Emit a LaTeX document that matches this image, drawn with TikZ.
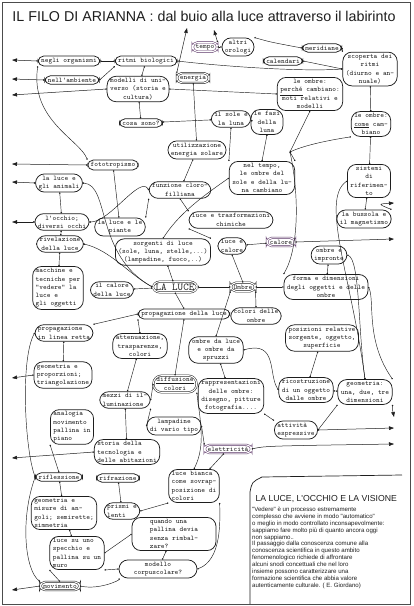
\documentclass[tikz,border=0pt]{standalone}
\usepackage{fontspec}
\usepackage{graphicx}
\setmainfont{Liberation Serif}
\newfontfamily\csfont{Liberation Sans}
\usetikzlibrary{arrows.meta}
\definecolor{ink}{HTML}{1E1E1E}
\definecolor{purp}{HTML}{5B3566}
\begin{document}
\begin{tikzpicture}[x=1pt,y=-1pt,
 blob/.style={draw=ink, line width=0.75pt, rounded corners=5.5pt, align=center, inner xsep=3pt, inner ysep=2pt, font=\ttfamily\fontsize{7}{8.3}\selectfont, text=ink, fill=white},
 tall/.style={rounded corners=9pt},
 dbl/.style={blob, rounded corners=5pt, double=white, double distance=1.1pt, line width=0.5pt},
 cn/.style={draw=ink, line width=0.45pt, {Circle[length=1.4pt]}-{Circle[length=1.4pt]}},
 outa/.style={draw=ink, line width=0.5pt, {Circle[length=1.4pt]}-{Triangle[length=5pt,width=3.6pt]}},
]
\useasboundingbox (0,0) rectangle (414,606);
\fill[white] (0,0) rectangle (414,606);
\draw[line width=0.8pt, black!70] (2,2) rectangle (410,604);

\node[text=ink] (title) at (204,16) {\resizebox{383pt}{!}{\csfont\fontsize{13}{15}\selectfont IL FILO DI ARIANNA : dal buio alla luce attraverso il labirinto}};

% ---------- nodes ----------
\node[blob] (org) at (69,61) {negli organismi};
\node[blob] (amb) at (72,80) {nell'ambiente};
\node[blob] (rit) at (146,61) {ritmi biologici};
\node[blob,tall] (mod) at (138,89) {modelli di uni-\\verso (storia e\\cultura)};
\node[blob] (cosa) at (141,123) {cosa sono?};
\node[dbl,draw=purp] (tempo) at (205,47) {tempo};
\node[blob,tall] (oro) at (238,47) {altri\\orologi};
\node[blob] (cal) at (283,61) {calendari};
\node[blob] (mer) at (322,48) {meridiane};
\node[blob,tall] (sco) at (370,69) {scoperta dei\\ritmi\\(diurno e an-\\nuale)};
\node[dbl] (ene) at (193,78) {energia};
\node[blob,tall] (perche) at (310,94) {le ombre:\\\underline{perché} cambiano:\\moti relativi e\\modelli};
\node[blob,tall] (sole) at (231,119) {il sole e\\la luna};
\node[blob,tall] (fasi) at (267,122) {le fasi\\della\\luna};
\node[blob,tall] (come) at (371,124) {le ombre:\\\underline{come} cam-\\biano};
\node[blob,tall] (util) at (197,150) {utilizzazione\\energia solare};
\node[blob] (foto) at (113,165) {fototropismo};
\node[blob,tall] (anim) at (59,183) {la luce e\\gli animali};
\node[blob,tall] (occ) at (62,222) {l'occhio;\\diversi occhi};
\node[blob,tall] (piante) at (120,227) {la luce e le\\piante};
\node[blob,tall] (clor) at (180,190) {funzione cloro-\\filliana};
\node[blob,tall] (ntempo) at (262,178) {nel tempo,\\le ombre del\\sole e della lu-\\na cambiano};
\node[blob,tall] (sist) at (369,181) {sistemi\\di\\riferimen-\\to};
\node[blob,tall] (buss) at (364,219) {la bussola e\\il magnetismo};
\node[blob,tall] (chim) at (231,220) {luce e trasformazioni\\chimiche};
\node[blob,tall] (sorg) at (163,252) {sorgenti di luce\\(sole, luna, stelle,...)\\(lampadine, fuoco,..)};
\node[blob,tall] (lcal) at (232,246) {luce e\\calore};
\node[dbl,draw=purp] (calore) at (281,242) {calore};
\node[dbl,rounded corners=7pt,font=\ttfamily\fontsize{10.5}{11}\selectfont] (luce) at (175,287) {LA LUCE};
\node[dbl] (ombre) at (243,287) {Ombre};
\node[blob,tall] (impr) at (329,255) {ombre e\\impronte};
\node[blob,tall] (forma) at (326,287) {forma e dimensioni\\degli oggetti e delle\\ombre};
\node[blob,tall] (riv) at (60,244) {rivelazione\\della luce};
\node[blob,tall,align=left] (macch) at (58,288) {macchine e\\tecniche per\\"vedere" la\\luce e\\gli oggetti};
\node[blob,tall] (cdl) at (112,290) {il calore\\della luce};
\node[blob] (prop) at (184,314) {propagazione della luce};
\node[blob,tall] (col) at (256,316) {colori delle\\ombre};
\node[blob,tall,align=left] (retta) at (64,333) {propagazione\\in linea retta};
\node[blob,tall] (att) at (140,346) {attenuazione,\\trasparenze,\\colori};
\node[blob,tall] (ospr) at (216,350) {ombre da luce\\e ombre da\\spruzzi};
\node[blob,tall] (pos) at (322,338) {posizioni relative\\sorgente, oggetto,\\superficie};
\node[blob,tall,align=left] (geoa) at (63,375) {geometria e\\proporzioni;\\triangolazione};
\node[dbl,rounded corners=8pt] (diff) at (175,384) {\underline{diffusione}\\colori};
\node[blob,tall] (rapp) at (231,396) {rappresentazioni\\delle ombre:\\disegno, pitture\\fotografia....};
\node[blob,tall,align=left] (mezzi) at (125,400) {mezzi di il-\\luminazione};
\node[blob,tall] (ric) at (306,390) {ricostruzione\\di un oggetto\\dalle ombre};
\node[blob,tall] (geoc) at (365,392) {geometria:\\una, due, tre\\dimensioni};
\node[blob,tall,align=left] (anal) at (72,427) {analogia\\movimento\\pallina in\\piano};
\node[blob,tall] (lamp) at (174,426) {lampadine\\di vario tipo};
\node[blob,tall,align=left] (espr) at (296,430) {attività\\espressive};
\node[blob,tall,align=left] (stor) at (127,452) {storia della\\tecnologia e\\delle abitazioni};
\node[dbl,draw=purp] (elet) at (228,449) {elettricità};
\node[blob] (rifl) at (59,477) {riflessione};
\node[blob] (rifr) at (118,478) {rifrazione};
\node[blob,tall,align=left] (geob) at (64,513) {geometria e\\misure di an-\\goli; semirette;\\simmetria};
\node[blob,tall,align=left] (prismi) at (122,511) {prismi e\\lenti};
\node[blob,tall,align=left] (bianca) at (194,486) {luce bianca\\come sovrap-\\posizione di\\colori};
\node[blob,tall,align=left] (spec) at (77,553) {luce su uno\\specchio e\\pallina su un\\muro};
\node[blob,tall,align=left,minimum width=84pt] (qua) at (174,534) {quando una\\pallina devia\\senza rimbal-\\zare?};
\node[blob,tall,minimum width=78pt] (corp) at (158,569) {modello\\corpuscolare?};
\node[dbl] (mov) at (60,586) {movimento};

% free ends
\coordinate (J) at (290,152);
\coordinate (upA) at (187,28);
\coordinate (upB) at (214,30);
\foreach \n/\y in {a/60,b/79,c/95,d/164,e/182,f/222,g/378,h/458,i/590} {\coordinate (L\n) at (12,\y);}
\foreach \n/\y in {a/203,b/239,c/417,d/428,e/444} {\coordinate (R\n) at (394,\y);}

% ---------- connectors ----------
\draw[outa] (org.west) -- (La);
\draw[outa] (amb.west) -- (Lb);
\draw[outa] (mod.west) -- (Lc);
\draw[outa] (foto.west) -- (Ld);
\draw[outa] (anim.west) -- (Le);
\draw[outa] (occ.west) -- (Lf);
\draw[outa] (geoa.west) -- (Lg);
\draw[outa] (stor.west) -- (Lh);
\draw[outa] (mov.west) -- (Li);
\draw[outa] (ene.north west) -- (upA);
\draw[outa] (tempo.north east) -- (upB);
\draw[outa] (buss.north east) .. controls (378,204) .. (Ra);
\draw[outa] (calore.east) -- (Rb);
\draw[outa] (geoc.south east) -- ++(0,5) -- (Rc);
\draw[outa] (espr.east) -- (Rd);
\draw[outa] (elet.east) .. controls (265,446) .. (Re);

\draw[cn] (org) -- (rit);
\draw[cn] (amb.east) -- (rit.south west);
\draw[cn] (rit) -- (mod);
\draw[cn] (mod) -- (cosa);
\draw[cn] (rit.east) .. controls (220,66) and (300,72) .. (sco.west);
\draw[cn] (cal.east) -- (sco.west);
\draw[cn] (tempo) -- (oro);
\draw[cn] (oro.north east) .. controls (270,42) .. (mer.west);
\draw[cn] (mer.east) -- (sco.north west);
\draw[cn] (mod.east) -- (perche.west);
\draw[cn] (cosa) -- (sole);
\draw[cn] (sole) -- (fasi);
\draw[cn] (ene) -- (util);
\draw[cn] (util) -- (clor);
\draw[cn] (sole.south) -- (ntempo.north west);
\draw[cn] (fasi.south) -- (ntempo.north);
\draw[cn] (perche.south) -- (J);
\draw[cn] (come.south west) .. controls (330,140) and (305,145) .. (J);
\draw[cn] (J) -- (ntempo.north east);
\draw[cn] (J) .. controls (300,200) and (298,250) .. (forma.north west);
\draw[cn] (sco) -- (come);
\draw[cn] (come) -- (sist);
\draw[cn] (sist) -- (buss);
\draw[cn] (org.south west) .. controls (30,120) and (80,140) .. (foto.north west);
\draw[cn] (foto) -- (piante);
\draw[cn] (clor.south west) -- (piante.north east);
\draw[cn] (clor.south) -- (chim.north west);
\draw[cn] (ntempo.west) .. controls (200,198) and (178,215) .. (sorg.north);
\draw[cn] (chim.south west) -- (sorg.north east);
\draw[cn] (lcal) -- (calore);
\draw[cn] (lcal.south) -- (ombre.north);
\draw[cn] (luce) -- (ombre);
\draw[cn] (sorg) -- (luce);
\draw[cn] (luce) -- (cdl);
\draw[cn] (luce.south) -- (prop.north);
\draw[cn] (ombre) -- (forma.west);
\draw[cn] (impr) -- (forma);
\draw[cn] (ombre.south east) -- (col.north);
\draw[cn] (ombre.south west) -- (ospr.north);
\draw[cn] (anim) -- (occ);
\draw[cn] (occ) -- (riv);
\draw[cn] (riv) -- (macch);
\draw[cn] (anim.east) .. controls (110,185) and (95,255) .. (luce.west);
\draw[cn] (occ.east) .. controls (110,222) and (140,175) .. (clor.west);
\draw[cn] (riv.east) .. controls (110,250) and (130,275) .. (luce.west);
\draw[cn] (prop.west) -- (retta.north east);
\draw[cn] (prop.south west) -- (att.north);
\draw[cn] (prop.south) -- (diff.north);
\draw[cn] (retta) -- (geoa);
\draw[cn] (att) -- (mezzi);
\draw[cn] (mezzi.east) -- (diff.west);
\draw[cn] (mezzi.south east) -- (lamp.west);
\draw[cn] (mezzi) -- (stor);
\draw[cn] (lamp.east) -- (elet.north west);
\draw[cn] (elet) -- (bianca);
\draw[cn] (diff.south east) .. controls (200,420) and (206,445) .. (bianca.north);
\draw[cn] (ospr) -- (rapp);
\draw[cn] (ospr.east) .. controls (278,340) and (268,375) .. (ric.west);
\draw[cn] (rapp.south east) -- (espr.north west);
\draw[cn] (pos) -- (ric);
\draw[cn] (ric) -- (geoc);
\draw[cn] (espr.east) -- (geoc.south west);
\draw[cn] (sist.west) .. controls (320,200) and (352,280) .. (geoc.north);
\draw[cn] (impr.east) .. controls (360,260) and (358,330) .. (geoc.north);
\draw[cn] (forma.east) .. controls (375,300) and (365,340) .. (geoc.north east);
\draw[cn] (retta.west) .. controls (20,360) and (25,450) .. (rifl.west);
\draw[cn] (anal.south west) -- (rifl.north);
\draw[cn] (rifl) -- (geob);
\draw[cn] (geob) -- (spec);
\draw[cn] (rifl.west) .. controls (20,520) and (25,570) .. (mov.north west);
\draw[cn] (spec.south west) -- (mov.north);
\draw[cn] (spec.east) -- (qua.west);
\draw[cn] (spec.south east) -- (corp.west);
\draw[cn] (mov.east) .. controls (100,590) and (120,580) .. (corp.south west);
\draw[cn] (rifr) -- (prismi);
\draw[cn] (prismi.east) -- (bianca.south west);
\draw[cn] (qua) -- (corp);
\draw[cn] (bianca.south east) .. controls (220,520) and (222,560) .. (corp.east);

% ---------- text box ----------
\draw[line width=0.7pt, ink] (250,604) -- (250,492) .. controls (252,482) .. (262,477) -- (402,475);
\node[anchor=west, text=ink, font=\csfont\fontsize{8.7}{9}\selectfont] (bt) at (252,499) {LA LUCE, L'OCCHIO E LA VISIONE};
\node[anchor=north west, align=left, inner sep=0pt, text=ink, font=\csfont\fontsize{6.1}{6.85}\selectfont] (btx) at (252,507) {"Vedere" è un processo estremamente\\complesso che avviene in modo "automatico"\\o meglio in modo controllato inconsapevolmente:\\sappiamo fare molto più di quanto ancora oggi\\non sappiamo..\\Il passaggio dalla conoscenza comune alla\\conoscenza scientifica in questo ambito\\fenomenologico richiede di affrontare\\alcuni snodi concettuali che nel loro\\insieme possono caratterizzare una\\formazione scientifica che abbia valore\\autenticamente culturale. ( E. Giordano)};
\end{tikzpicture}
\end{document}
